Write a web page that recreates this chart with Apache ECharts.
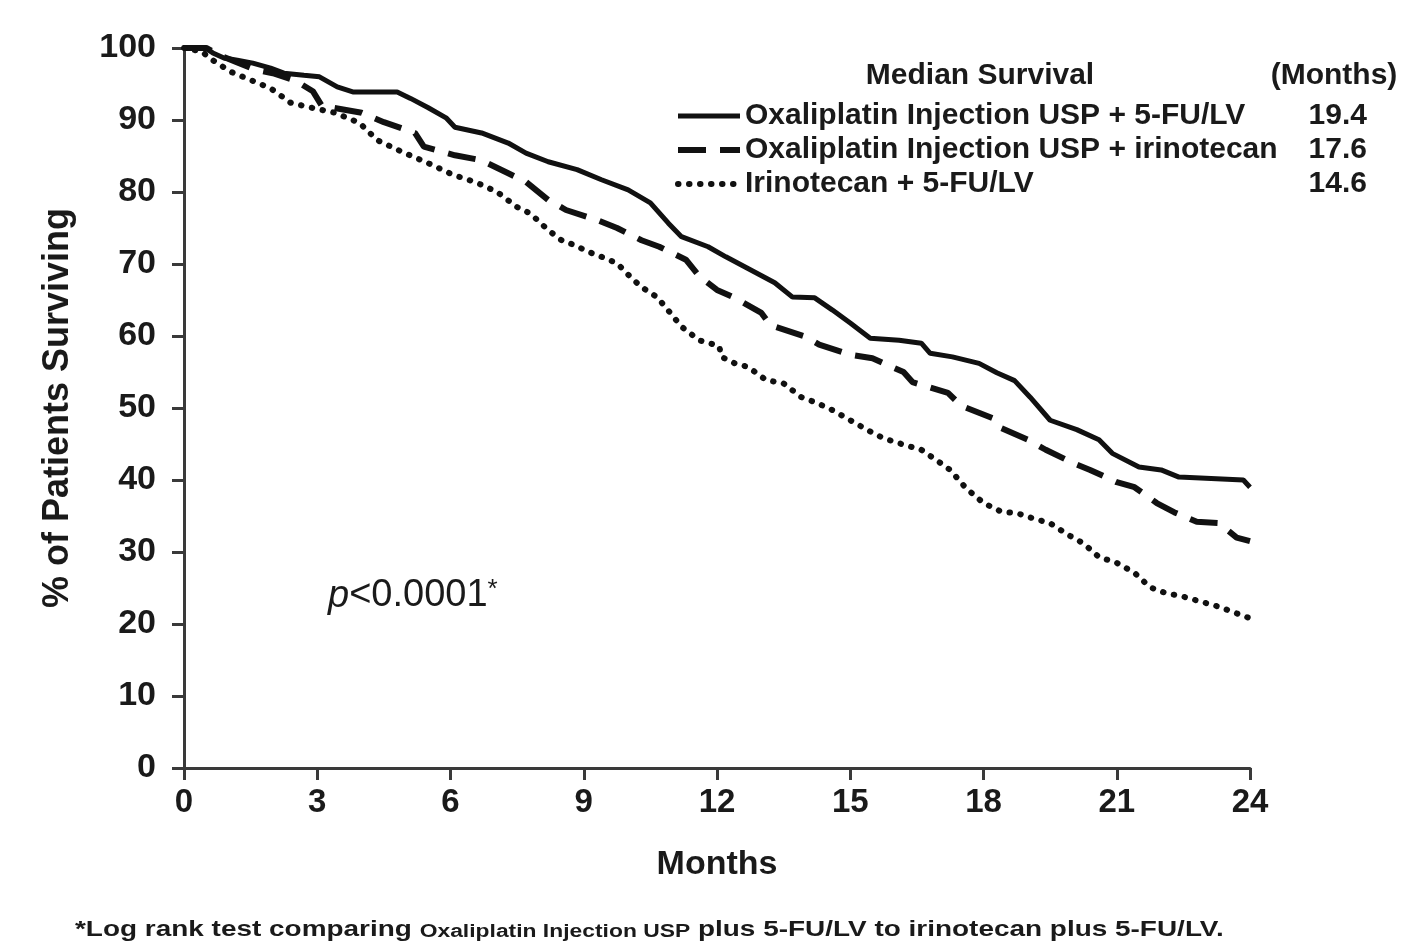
<!DOCTYPE html>
<html>
<head>
<meta charset="utf-8">
<title>Overall survival</title>
<script src="https://cdn.jsdelivr.net/npm/echarts@6/dist/echarts.min.js"></script>
<style>
  html, body { margin: 0; padding: 0; background: #fff; }
  #main { width: 1416px; height: 945px; }
</style>
</head>
<body>
<div id="main"></div>
<script>
// series names and median survival (months)
const seriesNames = [
  'Oxaliplatin Injection USP + 5-FU/LV',
  'Oxaliplatin Injection USP + irinotecan',
  'Irinotecan + 5-FU/LV'
]
const medians = ['19.4', '17.6', '14.6']

// [month, % surviving]
const oxFuCurve = [
  [0, 100], [0.5, 100], [0.65, 99.3], [0.9, 98.6], [1.2, 98.3], [1.55, 97.9], [1.95, 97.2],
  [2.25, 96.5], [2.7, 96.2], [3.05, 96], [3.45, 94.6], [3.8, 93.9], [4.8, 93.9], [5.1, 93],
  [5.5, 91.7], [5.9, 90.3], [6.1, 89], [6.7, 88.2], [7.3, 86.8], [7.7, 85.4], [8.2, 84.2],
  [8.85, 83.1], [9.4, 81.7], [10, 80.3], [10.5, 78.5], [10.9, 75.7], [11.2, 73.8], [11.8, 72.4],
  [12.2, 71], [12.75, 69.2], [13.3, 67.4], [13.7, 65.4], [14.2, 65.3], [14.6, 63.6], [15, 61.8],
  [15.45, 59.7], [16.1, 59.4], [16.6, 59], [16.8, 57.6], [17.3, 57.1], [17.9, 56.2], [18.3, 54.9],
  [18.7, 53.8], [19.05, 51.5], [19.5, 48.3], [20.1, 47], [20.6, 45.6], [20.9, 43.7], [21.5, 41.8],
  [22, 41.4], [22.4, 40.4], [23.85, 40], [24, 39]
]
const oxIriCurve = [
  [0, 100], [0.5, 100], [0.8, 99], [1.2, 98], [1.6, 97], [2, 96.5], [2.5, 95.5], [2.9, 94],
  [3.1, 92], [4, 91], [4.5, 89.7], [5.2, 88.2], [5.4, 86.3], [6.1, 85.1], [6.7, 84.4], [7.3, 82.6],
  [7.7, 81.4], [8.2, 78.9], [8.6, 77.5], [9.3, 76.1], [9.75, 75], [10.3, 73.3], [10.7, 72.4],
  [11.3, 70.6], [11.6, 68.3], [12, 66.4], [12.4, 65.3], [13, 63.2], [13.2, 61.5], [14, 59.9],
  [14.3, 58.8], [15, 57.4], [15.5, 56.9], [16.2, 55], [16.4, 53.6], [17.2, 52.1], [17.5, 50.3],
  [18.2, 48.6], [18.4, 47.2], [19, 45.6], [19.4, 44.2], [20, 42.4], [20.4, 41.4], [21, 39.7],
  [21.4, 39], [21.9, 36.8], [22.3, 35.5], [22.8, 34.2], [23.3, 34], [23.7, 32], [24, 31.5]
]
const iriFuCurve = [
  [0, 100], [0.4, 99.5], [0.65, 98.3], [1.05, 96.7], [1.6, 95.3], [1.95, 94.4], [2.4, 92.4],
  [2.8, 91.8], [3.4, 91], [3.95, 89.6], [4.35, 87.2], [4.9, 85.6], [5.5, 84], [6.05, 82.4],
  [6.4, 81.7], [6.7, 81], [7.05, 80], [7.5, 77.9], [7.8, 77], [8.2, 74.7], [8.5, 73.3],
  [8.8, 72.6], [9.1, 71.7], [9.4, 71], [9.75, 70.1], [10.05, 68.2], [10.3, 66.8], [10.65, 65.4],
  [10.95, 63.2], [11.2, 61.3], [11.6, 59.4], [12.05, 58.6], [12.1, 57.1], [12.4, 56.2],
  [12.7, 55.7], [13.1, 53.9], [13.5, 53.4], [13.9, 51.5], [14.25, 50.7], [14.6, 49.7], [15, 48.3],
  [15.4, 46.9], [15.75, 45.8], [16.1, 45.1], [16.6, 44.2], [17, 42.5], [17.25, 41.4], [17.6, 38.9],
  [18, 36.8], [18.4, 35.6], [18.75, 35.4], [19.1, 34.7], [19.5, 34], [19.9, 32.4], [20.25, 31.2],
  [20.6, 29.3], [21, 28.5], [21.4, 27.1], [21.75, 25.1], [22.1, 24.3], [22.5, 23.8], [22.9, 23.1],
  [23.3, 22.4], [23.6, 21.7], [24, 20.8]
]

const FONT = '"Liberation Sans", Arial, sans-serif'
const INK = '#1a1a1a'

const myChart = echarts.init(document.getElementById('main'))

const option = {
  backgroundColor: '#fff',
  animation: false,
  color: ['#111', '#111', '#111'],
  grid: { left: 184, right: 166, top: 48, bottom: 177 },
  legend: {
    orient: 'vertical',
    left: 670,
    top: 96,
    itemWidth: 62,
    itemHeight: 14,
    itemGap: 4,
    itemStyle: { opacity: 0, borderWidth: 0 },
    lineStyle: { width: 'inherit' },
    data: seriesNames,
    formatter: function (name) {
      return '{n|' + name + '}{v|' + medians[seriesNames.indexOf(name)] + '}'
    },
    textStyle: {
      color: INK,
      fontFamily: FONT,
      fontWeight: 'bold',
      fontSize: 30,
      rich: {
        n: { width: 556, fontSize: 30, fontWeight: 'bold', fontFamily: FONT, color: INK },
        v: { width: 66, align: 'right', fontSize: 30, fontWeight: 'bold', fontFamily: FONT, color: INK }
      }
    }
  },
  xAxis: {
    type: 'value',
    min: 0,
    max: 24,
    interval: 3,
    name: 'Months',
    nameLocation: 'middle',
    nameGap: 80,
    nameTextStyle: { fontSize: 34, fontWeight: 'bold', fontFamily: FONT, color: INK },
    axisLine: { show: true, lineStyle: { color: '#3a3a3a', width: 3 } },
    axisTick: { show: true, length: 12, lineStyle: { color: '#3a3a3a', width: 3 } },
    axisLabel: { fontSize: 33, fontWeight: 'bold', fontFamily: FONT, color: INK, margin: 18 },
    splitLine: { show: false }
  },
  yAxis: {
    type: 'value',
    min: 0,
    max: 100,
    interval: 10,
    name: '% of Patients Surviving',
    nameLocation: 'middle',
    nameRotate: 90,
    nameGap: 108,
    nameTextStyle: { fontSize: 36, fontWeight: 'bold', fontFamily: FONT, color: INK },
    axisLine: { show: true, lineStyle: { color: '#3a3a3a', width: 3 } },
    axisTick: { show: true, length: 12, lineStyle: { color: '#3a3a3a', width: 3 } },
    axisLabel: { fontSize: 34, fontWeight: 'bold', fontFamily: FONT, color: INK, margin: 28 },
    splitLine: { show: false }
  },
  series: [
    {
      name: seriesNames[0],
      type: 'line',
      symbol: 'none',
      data: oxFuCurve,
      lineStyle: { color: '#111', width: 5 }
    },
    {
      name: seriesNames[1],
      type: 'line',
      symbol: 'none',
      data: oxIriCurve,
      lineStyle: { color: '#111', width: 6, type: [28, 14] }
    },
    {
      name: seriesNames[2],
      type: 'line',
      symbol: 'none',
      data: iriFuCurve,
      lineStyle: { color: '#111', width: 6, type: [0.5, 10.5], cap: 'round' }
    }
  ],
  graphic: [
    {
      type: 'text',
      x: 980,
      y: 76,
      style: {
        text: 'Median Survival',
        align: 'center',
        verticalAlign: 'middle',
        font: 'bold 30px ' + FONT,
        fill: INK
      }
    },
    {
      type: 'text',
      x: 1334,
      y: 76,
      style: {
        text: '(Months)',
        align: 'center',
        verticalAlign: 'middle',
        font: 'bold 30px ' + FONT,
        fill: INK
      }
    },
    {
      type: 'text',
      x: 328,
      y: 596,
      style: {
        text: '{p|p}{t|<0.0001}{s|*}',
        verticalAlign: 'middle',
        rich: {
          p: { font: 'italic 38px ' + FONT, fill: INK, verticalAlign: 'bottom' },
          t: { font: '38px ' + FONT, fill: INK, verticalAlign: 'bottom' },
          s: { font: '26px ' + FONT, fill: INK, verticalAlign: 'top' }
        }
      }
    },
    {
      type: 'text',
      x: 75,
      y: 930,
      scaleX: 1.27,
      style: {
        text: '{b|*Log rank test comparing }{m|Oxaliplatin Injection USP}{b| plus 5-FU/LV to irinotecan plus 5-FU/LV.}',
        verticalAlign: 'middle',
        rich: {
          b: { font: 'bold 22px ' + FONT, fill: INK, verticalAlign: 'bottom' },
          m: { font: 'bold 18px ' + FONT, fill: INK, verticalAlign: 'bottom' }
        }
      }
    }
  ]
}

myChart.setOption(option)
</script>
</body>
</html>
